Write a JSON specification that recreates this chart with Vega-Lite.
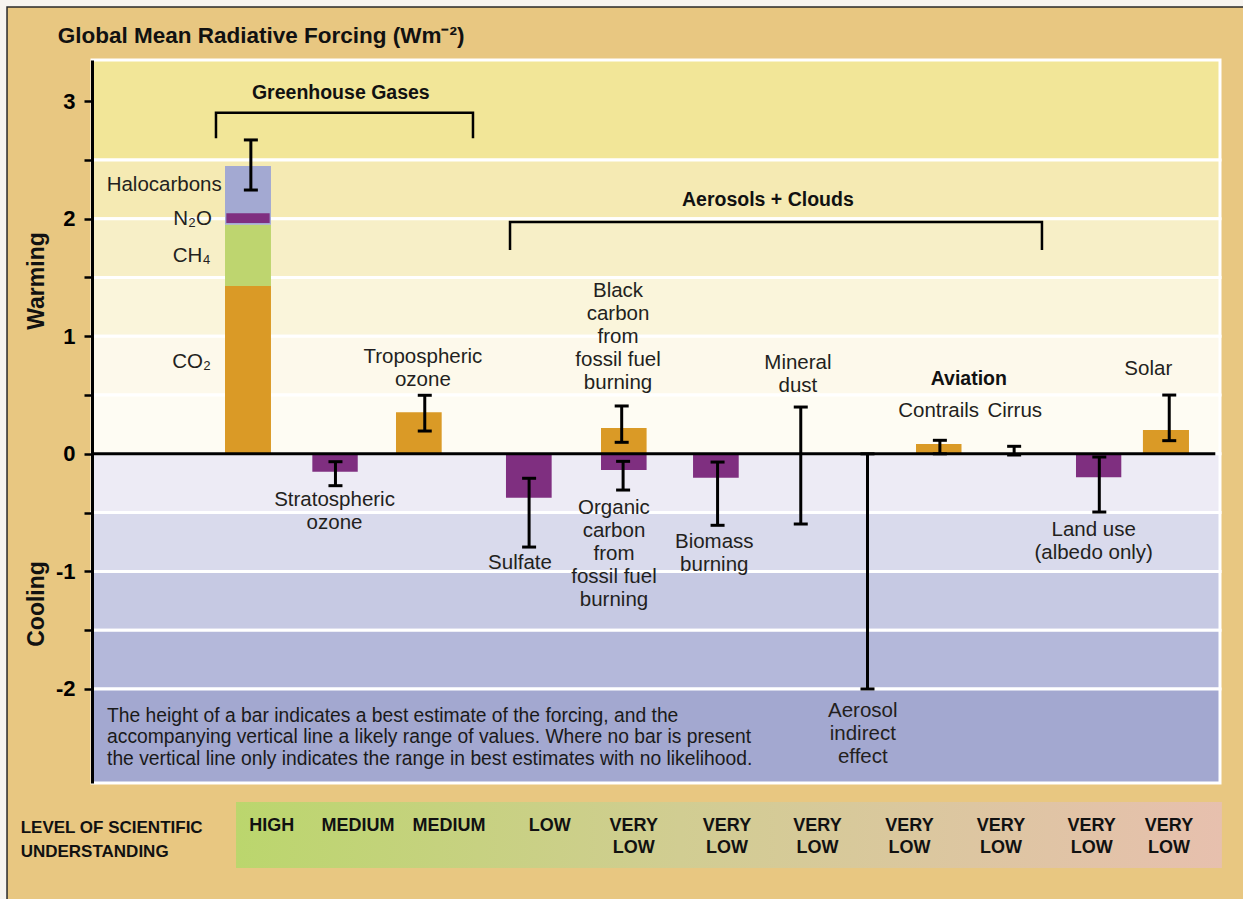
{
  "$schema": "https://vega.github.io/schema/vega-lite/v6.json",
  "width": 1128,
  "height": 723,
  "autosize": "none",
  "padding": {"left": 92, "top": 60, "right": 23, "bottom": 116},
  "background": "#F7F4EF",
  "config": {"view": {"stroke": null}, "font": "Liberation Sans"},
  "datasets": {
    "frame": [{"x": -0.904, "x2": 12.6, "y": 3.801, "y2": -4.2}],
    "title": [{"x": -0.365, "y": 3.492, "t": "Global Mean Radiative Forcing (Wm⁻²)"}],
    "bands": [
      {"band": "b1", "y": 2.5, "y2": 3.35},
      {"band": "b2", "y": 2.0, "y2": 2.5},
      {"band": "b3", "y": 1.5, "y2": 2.0},
      {"band": "b4", "y": 1.0, "y2": 1.5},
      {"band": "b5", "y": 0.5, "y2": 1.0},
      {"band": "b6", "y": 0.0, "y2": 0.5},
      {"band": "b7", "y": -0.5, "y2": 0.0},
      {"band": "b8", "y": -1.0, "y2": -0.5},
      {"band": "b9", "y": -1.5, "y2": -1.0},
      {"band": "b10", "y": -2.0, "y2": -1.5},
      {"band": "b11", "y": -2.8, "y2": -2.0}
    ],
    "bars": [
      {"name": "CO2", "kind": "warm", "x": 1.415, "x2": 1.904, "y": 0, "y2": 1.428},
      {"name": "CH4", "kind": "ch4", "x": 1.415, "x2": 1.904, "y": 1.428, "y2": 1.949},
      {"name": "Halocarbons", "kind": "halo", "x": 1.415, "x2": 1.904, "y": 1.949, "y2": 2.448},
      {"name": "N2O", "kind": "cool", "x": 1.429, "x2": 1.890, "y": 1.963, "y2": 2.046},
      {"name": "Stratospheric ozone", "kind": "cool", "x": 2.344, "x2": 2.827, "y": 0, "y2": -0.152},
      {"name": "Tropospheric ozone", "kind": "warm", "x": 3.234, "x2": 3.72, "y": 0, "y2": 0.353},
      {"name": "Sulfate", "kind": "cool", "x": 4.404, "x2": 4.89, "y": 0, "y2": -0.373},
      {"name": "Black carbon", "kind": "warm", "x": 5.415, "x2": 5.9, "y": 0, "y2": 0.22},
      {"name": "Organic carbon", "kind": "cool", "x": 5.415, "x2": 5.9, "y": 0, "y2": -0.138},
      {"name": "Biomass burning", "kind": "cool", "x": 6.394, "x2": 6.88, "y": 0, "y2": -0.203},
      {"name": "Contrails", "kind": "warm", "x": 8.766, "x2": 9.25, "y": 0, "y2": 0.084},
      {"name": "Land use", "kind": "cool", "x": 10.468, "x2": 10.95, "y": 0, "y2": -0.2},
      {"name": "Solar", "kind": "warm", "x": 11.18, "x2": 11.67, "y": 0, "y2": 0.203}
    ],
    "zero": [{"x": 0, "x2": 11.95, "y": 0}],
    "err": [
      {"name": "Greenhouse gases", "x": 1.69, "lo": 2.244, "hi": 2.67},
      {"name": "Stratospheric ozone", "x": 2.59, "lo": -0.271, "hi": -0.067},
      {"name": "Tropospheric ozone", "x": 3.54, "lo": 0.194, "hi": 0.498},
      {"name": "Sulfate", "x": 4.65, "lo": -0.793, "hi": -0.208},
      {"name": "Black carbon", "x": 5.635, "lo": 0.098, "hi": 0.407},
      {"name": "Organic carbon", "x": 5.65, "lo": -0.308, "hi": -0.064},
      {"name": "Biomass burning", "x": 6.655, "lo": -0.608, "hi": -0.07},
      {"name": "Mineral dust", "x": 7.54, "lo": -0.597, "hi": 0.398},
      {"name": "Aerosol indirect effect", "x": 8.25, "lo": -2.0, "hi": 0.0},
      {"name": "Contrails", "x": 9.02, "lo": 0.0, "hi": 0.115},
      {"name": "Cirrus", "x": 9.81, "lo": -0.01, "hi": 0.064},
      {"name": "Land use", "x": 10.716, "lo": -0.495, "hi": -0.027},
      {"name": "Solar", "x": 11.46, "lo": 0.112, "hi": 0.5}
    ],
    "brackets": [
      {"g": "ghg", "o": 1, "x": 1.319, "y": 2.684},
      {"g": "ghg", "o": 2, "x": 1.319, "y": 2.902},
      {"g": "ghg", "o": 3, "x": 4.053, "y": 2.902},
      {"g": "ghg", "o": 4, "x": 4.053, "y": 2.684},
      {"g": "aer", "o": 1, "x": 4.447, "y": 1.734},
      {"g": "aer", "o": 2, "x": 4.447, "y": 1.972},
      {"g": "aer", "o": 3, "x": 10.106, "y": 1.972},
      {"g": "aer", "o": 4, "x": 10.106, "y": 1.734}
    ],
    "labels": [
      {"x": 3.52, "y": 0.775, "t": ["Tropospheric", "ozone"]},
      {"x": 2.58, "y": -0.441, "t": ["Stratospheric", "ozone"]},
      {"x": 4.553, "y": -0.98, "t": ["Sulfate"]},
      {"x": 5.596, "y": 1.331, "t": ["Black", "carbon", "from", "fossil fuel", "burning"]},
      {"x": 5.553, "y": -0.514, "t": ["Organic", "carbon", "from", "fossil fuel", "burning"]},
      {"x": 6.62, "y": -0.798, "t": ["Biomass", "burning"]},
      {"x": 7.51, "y": 0.722, "t": ["Mineral", "dust"]},
      {"x": 8.2, "y": -2.236, "t": ["Aerosol", "indirect", "effect"]},
      {"x": 9.007, "y": 0.316, "t": ["Contrails"]},
      {"x": 9.816, "y": 0.316, "t": ["Cirrus"]},
      {"x": 11.237, "y": 0.671, "t": ["Solar"]},
      {"x": 10.656, "y": -0.696, "t": ["Land use", "(albedo only)"]}
    ],
    "rlabels": [
      {"x": 1.38, "y": 2.236, "t": "Halocarbons"},
      {"x": 1.277, "y": 1.944, "t": "N₂O"},
      {"x": 1.263, "y": 1.629, "t": "CH₄"},
      {"x": 1.266, "y": 0.728, "t": "CO₂"}
    ],
    "blabels": [
      {"x": 2.647, "y": 3.016, "t": "Greenhouse Gases"},
      {"x": 7.19, "y": 2.108, "t": "Aerosols + Clouds"},
      {"x": 9.328, "y": 0.585, "t": "Aviation"}
    ],
    "side": [
      {"x": -0.585, "y": 1.47, "t": "Warming"},
      {"x": -0.585, "y": -1.277, "t": "Cooling"}
    ],
    "note": [
      {"x": 0.16, "y": -2.279, "t": ["The height of a bar indicates a best estimate of the forcing, and the", "accompanying vertical line a likely range of values. Where no bar is present", "the vertical line only indicates the range in best estimates with no likelihood."]}
    ],
    "losu": [{"x": 1.532, "x2": 12.02, "y": -2.962, "y2": -3.523}],
    "losulabels": [
      {"x": 1.911, "y": -3.206, "t": ["HIGH"]},
      {"x": 2.83, "y": -3.206, "t": ["MEDIUM"]},
      {"x": 3.798, "y": -3.206, "t": ["MEDIUM"]},
      {"x": 4.869, "y": -3.206, "t": ["LOW"]},
      {"x": 5.763, "y": -3.206, "t": ["VERY", "LOW"]},
      {"x": 6.755, "y": -3.206, "t": ["VERY", "LOW"]},
      {"x": 7.718, "y": -3.206, "t": ["VERY", "LOW"]},
      {"x": 8.697, "y": -3.206, "t": ["VERY", "LOW"]},
      {"x": 9.67, "y": -3.206, "t": ["VERY", "LOW"]},
      {"x": 10.635, "y": -3.206, "t": ["VERY", "LOW"]},
      {"x": 11.457, "y": -3.206, "t": ["VERY", "LOW"]}
    ],
    "losutitle": [{"x": -0.759, "y": -3.228, "t": ["LEVEL OF SCIENTIFIC", "UNDERSTANDING"]}]
  },
  "resolve": {"scale": {"fill": "independent"}},
  "layer": [
    {
      "data": {"name": "frame"},
      "mark": {"type": "rect", "fill": "#E8C781", "stroke": "#2A2A2A", "strokeWidth": 1.5},
      "encoding": {
        "x": {"field": "x", "type": "quantitative", "scale": {"domain": [0, 12], "nice": false, "zero": false}, "axis": null},
        "x2": {"field": "x2"},
        "y": {"field": "y", "type": "quantitative", "title": null, "scale": {"domain": [-2.8, 3.35], "nice": false, "zero": false},
          "axis": {"values": [-2, -1.5, -1, -0.5, 0, 0.5, 1, 1.5, 2, 2.5, 3], "labelExpr": "datum.value % 1 === 0 ? '' + datum.value : ''", "title": null, "grid": false, "domainColor": "#000000", "domainWidth": 3, "tickColor": "#000000", "tickWidth": 2.5, "tickSize": 8, "labelFont": "Liberation Sans", "labelFontWeight": "bold", "labelFontSize": 22, "labelColor": "#000000", "labelPadding": 9, "labelFlush": false, "labelOverlap": false, "zindex": 1}},
        "y2": {"field": "y2"}
      }
    },
    {
      "data": {"name": "title"},
      "mark": {"type": "text", "align": "left", "baseline": "alphabetic", "fontSize": 22.5, "fontWeight": "bold", "color": "#111111"},
      "encoding": {
        "x": {"field": "x", "type": "quantitative", "axis": null},
        "y": {"field": "y", "type": "quantitative", "title": null},
        "text": {"field": "t"}
      }
    },
    {
      "data": {"name": "bands"},
      "mark": {"type": "rect", "stroke": "#FFFFFF", "strokeWidth": 3},
      "encoding": {
        "x": {"datum": 0, "type": "quantitative", "axis": null},
        "x2": {"datum": 12},
        "y": {"field": "y", "type": "quantitative", "title": null},
        "y2": {"field": "y2"},
        "fill": {"field": "band", "type": "nominal", "legend": null,
          "scale": {"domain": ["b1", "b2", "b3", "b4", "b5", "b6", "b7", "b8", "b9", "b10", "b11"],
            "range": ["#F2E698", "#F5EAB3", "#F7EFC7", "#FAF5DB", "#FDF9EB", "#FEFCF3", "#EDEBF5", "#D9DAEC", "#C6C9E3", "#B4B8DA", "#A3A8D0"]}}
      }
    },
    {
      "data": {"name": "bars"},
      "mark": {"type": "rect"},
      "encoding": {
        "x": {"field": "x", "type": "quantitative", "axis": null},
        "x2": {"field": "x2"},
        "y": {"field": "y", "type": "quantitative", "title": null},
        "y2": {"field": "y2"},
        "color": {"field": "kind", "type": "nominal", "legend": null,
          "scale": {"domain": ["warm", "cool", "ch4", "halo"], "range": ["#DA9A26", "#7F2F80", "#BED56F", "#A3A9D2"]}}
      }
    },
    {
      "data": {"name": "zero"},
      "mark": {"type": "rule", "color": "#000000", "strokeWidth": 3},
      "encoding": {
        "x": {"field": "x", "type": "quantitative", "axis": null},
        "x2": {"field": "x2"},
        "y": {"field": "y", "type": "quantitative", "title": null}
      }
    },
    {
      "data": {"name": "err"},
      "mark": {"type": "rule", "color": "#000000", "strokeWidth": 3},
      "encoding": {
        "x": {"field": "x", "type": "quantitative", "axis": null},
        "y": {"field": "lo", "type": "quantitative", "title": null},
        "y2": {"field": "hi"}
      }
    },
    {
      "data": {"name": "err"},
      "mark": {"type": "tick", "orient": "horizontal", "size": 14, "thickness": 3, "color": "#000000", "opacity": 1},
      "encoding": {
        "x": {"field": "x", "type": "quantitative", "axis": null},
        "y": {"field": "lo", "type": "quantitative", "title": null}
      }
    },
    {
      "data": {"name": "err"},
      "mark": {"type": "tick", "orient": "horizontal", "size": 14, "thickness": 3, "color": "#000000", "opacity": 1},
      "encoding": {
        "x": {"field": "x", "type": "quantitative", "axis": null},
        "y": {"field": "hi", "type": "quantitative", "title": null}
      }
    },
    {
      "data": {"name": "brackets"},
      "mark": {"type": "line", "color": "#000000", "strokeWidth": 2.5, "strokeJoin": "miter", "strokeCap": "butt"},
      "encoding": {
        "x": {"field": "x", "type": "quantitative", "axis": null},
        "y": {"field": "y", "type": "quantitative", "title": null},
        "detail": {"field": "g", "type": "nominal"},
        "order": {"field": "o", "type": "quantitative"}
      }
    },
    {
      "data": {"name": "labels"},
      "mark": {"type": "text", "align": "center", "baseline": "alphabetic", "fontSize": 20.5, "lineHeight": 23, "color": "#231F20"},
      "encoding": {
        "x": {"field": "x", "type": "quantitative", "axis": null},
        "y": {"field": "y", "type": "quantitative", "title": null},
        "text": {"field": "t"}
      }
    },
    {
      "data": {"name": "rlabels"},
      "mark": {"type": "text", "align": "right", "baseline": "alphabetic", "fontSize": 20.5, "color": "#231F20"},
      "encoding": {
        "x": {"field": "x", "type": "quantitative", "axis": null},
        "y": {"field": "y", "type": "quantitative", "title": null},
        "text": {"field": "t"}
      }
    },
    {
      "data": {"name": "blabels"},
      "mark": {"type": "text", "align": "center", "baseline": "alphabetic", "fontSize": 19.5, "fontWeight": "bold", "color": "#111111"},
      "encoding": {
        "x": {"field": "x", "type": "quantitative", "axis": null},
        "y": {"field": "y", "type": "quantitative", "title": null},
        "text": {"field": "t"}
      }
    },
    {
      "data": {"name": "side"},
      "mark": {"type": "text", "align": "center", "baseline": "middle", "angle": 270, "fontSize": 23, "fontWeight": "bold", "color": "#111111"},
      "encoding": {
        "x": {"field": "x", "type": "quantitative", "axis": null},
        "y": {"field": "y", "type": "quantitative", "title": null},
        "text": {"field": "t"}
      }
    },
    {
      "data": {"name": "note"},
      "mark": {"type": "text", "align": "left", "baseline": "alphabetic", "fontSize": 19.3, "lineHeight": 21.6, "color": "#1A1A1A"},
      "encoding": {
        "x": {"field": "x", "type": "quantitative", "axis": null},
        "y": {"field": "y", "type": "quantitative", "title": null},
        "text": {"field": "t"}
      }
    },
    {
      "data": {"name": "losu"},
      "mark": {"type": "rect", "fill": {"gradient": "linear", "x1": 0, "y1": 0, "x2": 1, "y2": 0, "stops": [{"offset": 0, "color": "#BBD66D"}, {"offset": 0.45, "color": "#D1CD92"}, {"offset": 1, "color": "#E7C0AE"}]}},
      "encoding": {
        "x": {"field": "x", "type": "quantitative", "axis": null},
        "x2": {"field": "x2"},
        "y": {"field": "y", "type": "quantitative", "title": null},
        "y2": {"field": "y2"}
      }
    },
    {
      "data": {"name": "losulabels"},
      "mark": {"type": "text", "align": "center", "baseline": "alphabetic", "fontSize": 18, "fontWeight": "bold", "lineHeight": 22.7, "color": "#111111"},
      "encoding": {
        "x": {"field": "x", "type": "quantitative", "axis": null},
        "y": {"field": "y", "type": "quantitative", "title": null},
        "text": {"field": "t"}
      }
    },
    {
      "data": {"name": "losutitle"},
      "mark": {"type": "text", "align": "left", "baseline": "alphabetic", "fontSize": 17, "fontWeight": "bold", "lineHeight": 23.4, "color": "#111111"},
      "encoding": {
        "x": {"field": "x", "type": "quantitative", "axis": null},
        "y": {"field": "y", "type": "quantitative", "title": null},
        "text": {"field": "t"}
      }
    }
  ]
}
